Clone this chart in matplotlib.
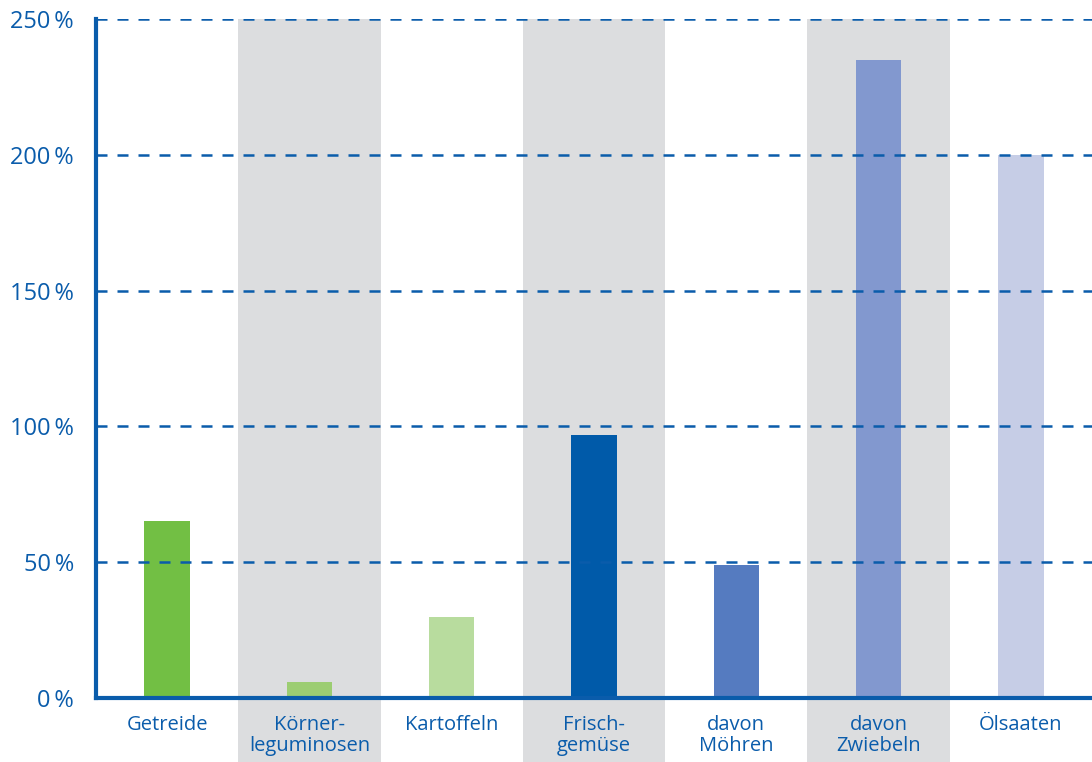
import matplotlib
matplotlib.use('Agg')
import matplotlib.pyplot as plt
from matplotlib.patches import Rectangle
import matplotlib.transforms as mtransforms

# chart data
categories = ['Getreide', 'Körner-\nleguminosen', 'Kartoffeln', 'Frisch-\ngemüse',
              'davon\nMöhren', 'davon\nZwiebeln', 'Ölsaaten']
values = [65, 6, 30, 97, 49, 235, 200]
bar_colors = ['#72bf44', '#9ccd72', '#b8dc9e', '#005aa9', '#557bc0', '#8298cf', '#c6cde6']
y_ticks = [0, 50, 100, 150, 200, 250]
y_labels = ['0\u2009%', '50\u2009%', '100\u2009%', '150\u2009%', '200\u2009%', '250\u2009%']

BLUE = '#0a5cab'
BAND = '#dcdddf'

plt.rcParams['font.family'] = ['Open Sans', 'DejaVu Sans']

fig = plt.figure(figsize=(10.92, 7.62), dpi=100)
ax = fig.add_axes([96 / 1092, 64 / 762, 1 - 96 / 1092, 679 / 762])

x = list(range(len(categories)))
ax.set_xlim(-0.5, len(categories) - 0.5)
ax.set_ylim(0, 250)

# grey background bands for every second column (reach under the labels)
trans = mtransforms.blended_transform_factory(ax.transData, ax.transAxes)
for i in x:
    if i % 2 == 1:
        ax.add_patch(Rectangle((i - 0.5, -0.2), 1.0, 1.2, transform=trans,
                               facecolor=BAND, edgecolor='none', zorder=0, clip_on=False))

ax.bar(x, values, width=0.32, color=bar_colors, zorder=2)

# dashed grid lines drawn over the bars
for t in y_ticks[1:]:
    ax.axhline(t, color=BLUE, linewidth=1.8, linestyle=(0, (4.4, 4)), zorder=3)

for side in ['top', 'right']:
    ax.spines[side].set_visible(False)
for side in ['left', 'bottom']:
    ax.spines[side].set_color(BLUE)
    ax.spines[side].set_linewidth(3)
    ax.spines[side].set_zorder(4)

ax.set_yticks(y_ticks)
ax.set_yticklabels(y_labels, fontsize=17, color=BLUE)
ax.set_xticks(x)
ax.set_xticklabels(categories, fontsize=14.5, color=BLUE, linespacing=1.12, va='top')
ax.tick_params(axis='y', length=0, pad=16)
ax.tick_params(axis='x', length=0, pad=12)
ax.set_facecolor('none')

fig.savefig('out.png', dpi=100)
